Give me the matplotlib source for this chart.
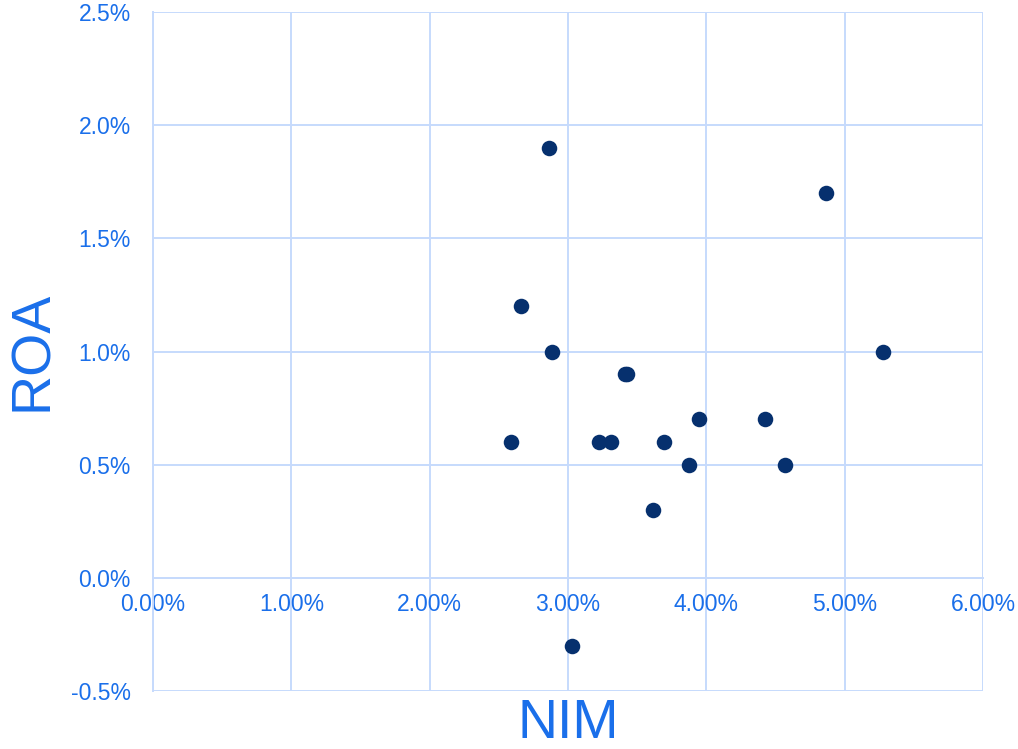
import matplotlib.pyplot as plt
from matplotlib.ticker import PercentFormatter

plt.rcParams['font.family'] = ['Liberation Sans', 'DejaVu Sans']
plt.rcParams['axes.unicode_minus'] = False

# net interest margin vs return on assets, in percent
nim = [2.59, 2.66, 2.86, 2.885, 3.03, 3.225, 3.31, 3.41, 3.43, 3.615,
       3.695, 3.875, 3.95, 4.425, 4.57, 4.865, 5.28]
roa = [0.6, 1.2, 1.9, 1.0, -0.3, 0.6, 0.6, 0.9, 0.9, 0.3,
       0.6, 0.5, 0.7, 0.7, 0.5, 1.7, 1.0]

x_ticks = [0, 1, 2, 3, 4, 5, 6]
y_ticks = [-0.5, 0.0, 0.5, 1.0, 1.5, 2.0, 2.5]

text_blue = '#1a6fea'
grid_blue = '#c6dafc'
dot_navy = '#06306e'

fig = plt.figure(figsize=(10.18, 7.49), dpi=100)
ax = fig.add_axes([0.1503, 0.0774, 0.8153, 0.9066])

ax.scatter(nim, roa, s=125, color=dot_navy, zorder=3, linewidths=0)

ax.set_xlim(0, 6)
ax.set_ylim(-0.5, 2.5)
ax.set_xticks(x_ticks)
ax.set_yticks(y_ticks)
ax.xaxis.set_major_formatter(PercentFormatter(decimals=2))
ax.yaxis.set_major_formatter(PercentFormatter(decimals=1))

ax.grid(True, color=grid_blue, linewidth=1.4)
ax.set_axisbelow(True)

# x axis crosses at zero, the frame is only the outer gridlines
ax.spines['bottom'].set_position(('data', 0))
ax.spines['bottom'].set_color(grid_blue)
ax.spines['bottom'].set_linewidth(1.4)
ax.spines['left'].set_color(grid_blue)
ax.spines['left'].set_linewidth(1.4)
ax.spines['top'].set_visible(False)
ax.spines['right'].set_visible(False)

ax.tick_params(axis='x', length=0, pad=11, labelsize=16.5, labelcolor=text_blue)
ax.tick_params(axis='y', length=0, pad=16, labelsize=16.5, labelcolor=text_blue)

fig.text(0.558, 0.034, 'NIM', color=text_blue, fontsize=40,
         ha='center', va='center')
fig.text(0.032, 0.531, 'ROA', color=text_blue, fontsize=40,
         ha='center', va='center', rotation=90)

fig.savefig('out.png', dpi=100)
